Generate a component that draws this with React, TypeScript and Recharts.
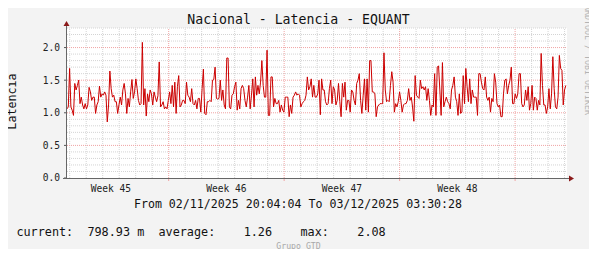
import { LineChart, Line, XAxis, YAxis, CartesianGrid, ReferenceLine } from 'recharts';

// latency samples left to right (seconds)
const latency1 = [
  1.06, 1.09, 1.68, 1.09, 1.04, 0.96, 1.45, 1.35, 1.42, 1.5,
  1.14, 1.24, 1.12, 1.06, 1.14, 1.06, 1.12, 1.39, 1.32, 1.19,
  1.24, 1.24, 0.99, 1.12, 1.17, 1.41, 1.24, 1.29, 1.27, 1.32,
  1.27, 0.86, 1.12, 1.64, 1.37, 1.24, 1.27, 1.17, 1.17, 0.99,
  1.12, 1.24, 1.12, 1.35, 1.45, 1.29, 0.99, 1.22, 1.09, 1.32,
  1.51, 1.22, 1.32, 1.52, 1.37, 1.19, 1.12, 1.14, 2.08, 1.12,
  1.37, 0.95, 1.29, 1.17, 1.35, 1.29, 1.12, 1.32, 1.24, 1.17,
  1.26, 1.78, 1.09, 1.12, 1.17, 1.06, 1.09, 1.06, 1.19, 1.32,
];
const latency2 = [
  1.14, 1.42, 1.09, 1.47, 0.99, 1.4, 1.57, 1.09, 1.12, 1.19,
  1.19, 1.14, 1.47, 1.27, 1.24, 1.17, 1.37, 1.14, 1.12, 1.19,
  1.06, 1.22, 1.22, 1.01, 1.37, 1.67, 0.99, 0.97, 1.17, 1.17,
  1.19, 1.17, 1.5, 1.51, 1.7, 1.22, 1.21, 1.22, 1.5, 1.19,
  1.35, 1.12, 1.06, 1.84, 1.84, 1.09, 1.06, 1.27, 1.29, 1.4,
  1.47, 1.04, 1.19, 1.06, 1.37, 1.42, 1.37, 1.19, 1.09, 1.24,
  1.42, 1.06, 1.27, 1.52, 1.09, 1.55, 1.27, 1.42, 1.29, 1.47,
  1.8, 1.42, 1.24, 1.24, 1.96, 0.96, 0.96, 1.55,
];
const latency3 = [
  1.55, 1.09, 1.22, 1.14, 1.14, 1.19, 1.01, 1.12, 1.04, 1.01,
  1.24, 1.24, 1.24, 0.94, 1.12, 0.99, 1.24, 1.27, 1.32, 1.27,
  1.29, 1.27, 1.09, 1.14, 1.17, 1.19, 1.27, 1.55, 1.35, 1.4,
  1.52, 1.24, 1.42, 1.24, 1.24, 1.29, 1.5, 0.97, 1.52, 1.35,
  1.35, 1.17, 1.12, 1.14, 1.37, 1.5, 1.14, 1.4, 1.35, 1.12,
  1.19, 1.45, 1.17, 0.94, 1.45, 1.24, 1.47, 1.04, 1.19, 1.19,
  1.01, 1.35, 1.32, 1.19, 1.12, 1.45, 1.5, 1.6, 1.19, 0.99,
  1.27, 1.52, 1.04, 1.52, 1.01, 1.8, 1.8,
];
const latency4 = [
  1.32, 1.32, 1.29, 0.94, 1.09, 1.12, 1.14, 1.14, 1.14, 1.92,
  1.35, 1.17, 1.19, 1.17, 1.42, 1.63, 1.47, 1.01, 1.14, 1.09,
  1.17, 1.32, 1.19, 1.01, 1.12, 1.14, 1.14, 1.19, 1.37, 1.19,
  1.24, 1.09, 0.87, 1.57, 1.27, 1.24, 1.22, 1.5, 1.37, 1.4,
  1.35, 1.4, 1.19, 1.37, 1.19, 0.96, 1.12, 1.09, 1.6, 0.96,
  1.7, 1.72, 1.35, 0.96, 1.77, 1.09, 1.17, 1.24, 1.17, 1.14,
  1.06, 1.35, 1.42, 1.55, 1.24, 1.17, 0.96, 1.29, 0.99, 1.01,
  1.57, 1.14, 1.68, 1.4, 1.17, 1.52,
];
const latency5 = [
  1.14, 1.35, 1.24, 1.24, 1.24, 0.96, 1.6, 1.6, 1.47, 1.37,
  1.35, 1.55, 1.24, 1.19, 1.24, 1.01, 1.22, 1.17, 1.6, 1.47,
  1.14, 1.09, 1.12, 0.94, 0.94, 1.29, 1.5, 1.52, 1.29, 1.42,
  1.5, 1.7, 1.14, 1.14, 1.29, 1.22, 1.29, 1.6, 1.6, 1.14,
  1.09, 1.12, 1.35, 1.19, 1.4, 1.04, 1.14, 1.42, 1.04, 1.24,
  1.22, 1.04, 1.19, 1.12, 1.91, 1.42, 1.12, 1.12, 0.99, 1.09,
  1.37, 1.06, 1.29, 1.86, 1.37, 1.09, 1.06, 1.24, 1.88, 1.68,
  1.65, 1.12, 1.35, 1.42,
];

const weekLabels = ['Week 45', 'Week 46', 'Week 47', 'Week 48'];
const yTicks = [0, 0.5, 1, 1.5, 2];

const TITLE = 'Nacional - Latencia - EQUANT';
const RANGE = 'From 02/11/2025 20:04:04 To 03/12/2025 03:30:28';
const CURRENT = '798.93 m';
const AVERAGE = '1.26';
const MAX = '2.08';

// time axis in hours since 02/11 20:04:04
const TOTAL_HOURS = 727.44;
const STEP_HOURS = 1.89;
const FIRST_MIDNIGHT = 3.93;
const WEEK_START_DAYS = [6, 13, 20, 27];

const MONO = '"DejaVu Sans Mono", monospace';
const W = 597;
const H = 257;
const GRID = '#d4d4d4';
const MGRID = '#f0a4a4';

const latency = [...latency1, ...latency2, ...latency3, ...latency4, ...latency5];
const rows = latency.map((v, i) => ({ t: i * STEP_HOURS, v }));

const dayLines: number[] = [];
for (let d = 0; FIRST_MIDNIGHT + d * 24 < TOTAL_HOURS; d++) dayLines.push(FIRST_MIDNIGHT + d * 24);
const weekLines = WEEK_START_DAYS.map((d) => FIRST_MIDNIGHT + d * 24);
const weekMids = weekLines.map((w) => w - 84);
const minorY = Array.from({ length: 23 }, (_, i) => (i + 1) / 10).filter((v) => Math.round(v * 10) % 5 !== 0);
const majorY = [0.5, 1, 1.5, 2];

function TimeTick(props: any) {
  const { x, y, payload } = props;
  const v = payload.value as number;
  if (weekLines.some((w) => Math.abs(w - v) < 1e-6)) {
    return <line x1={x} y1={y} x2={x} y2={y + 3} stroke={MGRID} />;
  }
  const i = weekMids.findIndex((m) => Math.abs(m - v) < 1e-6);
  return (
    <text x={x} y={y + 13.5} textAnchor="middle" fontFamily={MONO} fontSize={9.6} fill="#222">
      {weekLabels[i]}
    </text>
  );
}

export default function App() {
  return (
    <div style={{ position: 'relative', width: W, height: H, margin: -8, background: '#f3f3f3', overflow: 'hidden' }}>
      <div style={{ position: 'absolute', left: 0, top: 0 }}>
        <LineChart width={W} height={H} data={rows} margin={{ top: 28, right: 30, bottom: 49, left: 27 }}>
          <CartesianGrid horizontal={false} vertical={false} fill="#ffffff" stroke="none" />
          {minorY.map((v) => (
            <ReferenceLine key={'my' + v} y={v} stroke={GRID} strokeDasharray="1 1" />
          ))}
          {dayLines
            .filter((d) => !weekLines.includes(d))
            .map((d) => (
              <ReferenceLine key={'mx' + d} x={d} stroke={GRID} strokeDasharray="1 1" />
            ))}
          {majorY.map((v) => (
            <ReferenceLine key={'My' + v} y={v} stroke={MGRID} strokeDasharray="1 1" />
          ))}
          {weekLines.map((d) => (
            <ReferenceLine key={'Mx' + d} x={d} stroke={MGRID} strokeDasharray="1 1" />
          ))}
          <XAxis
            dataKey="t"
            type="number"
            domain={[0, TOTAL_HOURS]}
            ticks={[...weekLines, ...weekMids].sort((a, b) => a - b)}
            interval={0}
            axisLine={false}
            tickLine={false}
            tickSize={0}
            tickMargin={0}
            height={30}
            tick={<TimeTick />}
          />
          <YAxis
            type="number"
            domain={[0, 2.3]}
            ticks={yTicks}
            allowDataOverflow
            width={40}
            axisLine={false}
            tickLine={{ stroke: '#555' }}
            tickSize={3}
            tickMargin={4}
            tickFormatter={(v: number) => v.toFixed(1)}
            tick={{ fontFamily: MONO, fontSize: 9.6, fill: '#222' }}
          />
          <Line type="linear" dataKey="v" stroke="#cc0000" strokeWidth={1} dot={false} isAnimationActive={false} />
        </LineChart>
      </div>
      <svg width={W} height={H} style={{ position: 'absolute', left: 0, top: 0, pointerEvents: 'none' }}>
        <rect x={0} y={0} width={W} height={2} fill="#d2d2d2" />
        <rect x={0} y={0} width={2} height={H} fill="#d2d2d2" />
        <rect x={W - 2} y={0} width={2} height={H} fill="#9e9e9e" />
        <rect x={0} y={H - 2} width={W} height={2} fill="#9e9e9e" />

        <line x1={66.5} y1={24} x2={66.5} y2={179} stroke="#666" />
        <line x1={63} y1={178.5} x2={570} y2={178.5} stroke="#666" />
        <polygon points="63.5,26 69.5,26 66.5,21" fill="#8b1a1a" />
        <polygon points="569,175.5 569,181.5 574,178.5" fill="#8b1a1a" />

        <text x={298.5} y={24} textAnchor="middle" fontFamily={MONO} fontSize={13.2} fill="#111">
          {TITLE}
        </text>
        <text transform="translate(15.5,101.5) rotate(-90)" textAnchor="middle" fontFamily={MONO} fontSize={11.7} fill="#111">
          Latencia
        </text>
        <text x={298} y={208} textAnchor="middle" fontFamily={MONO} fontSize={11.6} fill="#111">
          {RANGE}
        </text>
        <text x={16.4} y={236} fontFamily={MONO} fontSize={11.8} fill="#111" xmlSpace="preserve" style={{ whiteSpace: 'pre' }}>
          {`current:  ${CURRENT}  average:    ${AVERAGE}    max:    ${MAX}`}
        </text>
        <text x={298.5} y={249} textAnchor="middle" fontFamily={MONO} fontSize={8.2} fill="#a8a8a8">
          Grupo GTD
        </text>
        <text transform="translate(585,5) rotate(90)" fontFamily={MONO} fontSize={8.3} fill="#b4b4b4">
          RRDTOOL / TOBI OETIKER
        </text>
      </svg>
    </div>
  );
}
